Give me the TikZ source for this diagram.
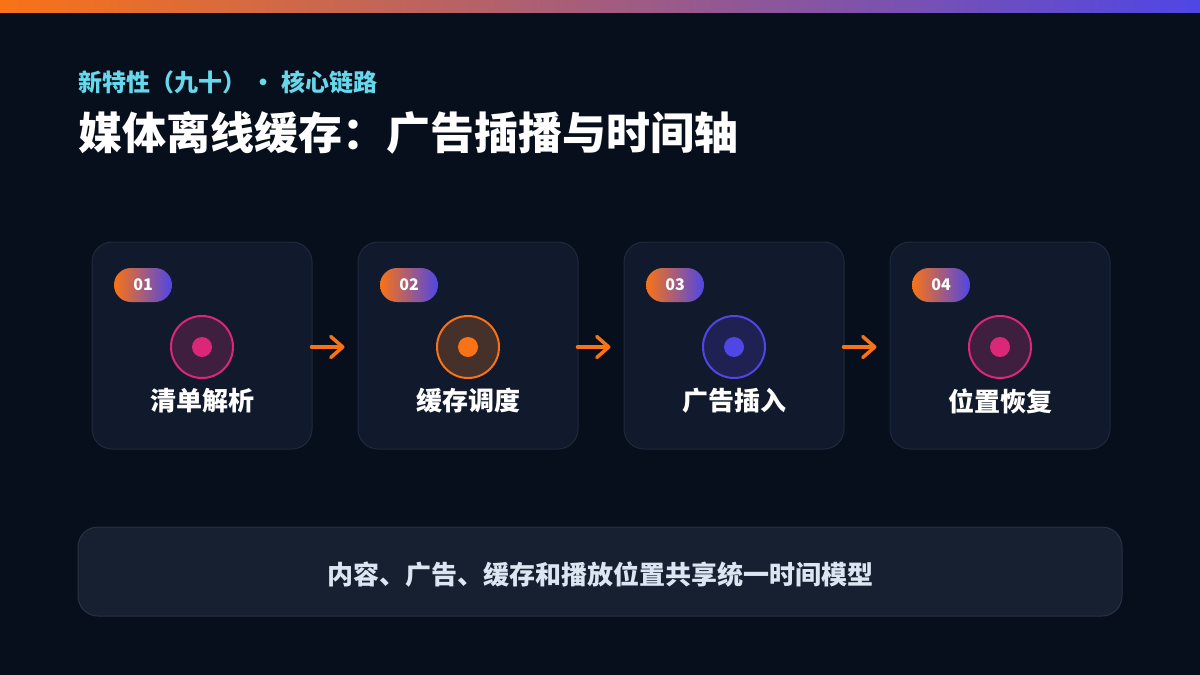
\documentclass[tikz,border=0pt]{standalone}
\usepackage{fontspec}
\setmainfont{Noto Sans CJK SC}
\usetikzlibrary{calc, shapes, arrows.meta, positioning}
\definecolor{bgdark}{HTML}{080F1C}
\definecolor{cardfill}{HTML}{111A2C}
\definecolor{cardline}{HTML}{1F293A}
\definecolor{barorange}{HTML}{F97316}
\definecolor{barindigo}{HTML}{4F46E5}
\definecolor{pinkdot}{HTML}{DB2777}
\definecolor{pinkring}{HTML}{3F1F3F}
\definecolor{orangering}{HTML}{45302A}
\definecolor{indigoring}{HTML}{1E2152}
\definecolor{subcyan}{HTML}{67D8EC}
\definecolor{notefill}{HTML}{172030}
\definecolor{noteline}{HTML}{263142}
\definecolor{notetext}{HTML}{DCE6F2}
\tikzset{
	card/.style={draw=cardline, line width=1pt, fill=cardfill, rounded corners=20pt, minimum width=220pt, minimum height=207pt, inner sep=0pt},
	badge/.style={rounded corners=17pt, minimum width=58pt, minimum height=34pt, left color=barorange, right color=barindigo, text=white, inner sep=0pt, font=\bfseries\fontsize{16}{18}\selectfont},
	ring/.style={circle, line width=2pt, minimum size=62pt, inner sep=0pt},
	dot/.style={circle, minimum size=20pt, inner sep=0pt},
	steplabel/.style={text=white, inner sep=0pt, font=\bfseries\fontsize{26}{30}\selectfont},
	flow/.style={draw=barorange, line width=3.5pt, line cap=round, -{Straight Barb[length=12pt,width=21pt,round]}},
}

\begin{document}
\begin{tikzpicture}[x=1pt, y=-1pt]
			%Background and top bar
			\useasboundingbox (0,0) rectangle (1200,675);
			\fill[bgdark] (0,0) rectangle (1200,675);
			\fill[left color=barorange, right color=barindigo] (0,0) rectangle (1200,12);
			%Headings
			\node [anchor=west, inner sep=0pt, text=subcyan, font=\bfseries\fontsize{24}{28}\selectfont] (kicker) at (78,82) {新特性（九十） · 核心链路};
			\node [anchor=west, inner sep=0pt, text=white, font=\bfseries\fontsize{44}{50}\selectfont] (title) at (78,133) {媒体离线缓存：广告插播与时间轴};
			%Card centers
			\foreach \i in {1,...,4} {
				\coordinate (c\i) at ({202+266*(\i-1)},345.5);
			}
			%card1
			\node [card] (card1) at (c1) {};
			\node [badge] (badge1) at ($(c1)+(-59,-60.5)$) {01};
			\node [ring, draw=pinkdot, fill=pinkring] (ring1) at ($(c1)+(0,1.5)$) {};
			\node [dot, fill=pinkdot] (dot1) at (ring1) {};
			\node [steplabel] (label1) at ($(c1)+(0,55.5)$) {清单解析};
			%card2
			\node [card] (card2) at (c2) {};
			\node [badge] (badge2) at ($(c2)+(-59,-60.5)$) {02};
			\node [ring, draw=barorange, fill=orangering] (ring2) at ($(c2)+(0,1.5)$) {};
			\node [dot, fill=barorange] (dot2) at (ring2) {};
			\node [steplabel] (label2) at ($(c2)+(0,55.5)$) {缓存调度};
			%card3
			\node [card] (card3) at (c3) {};
			\node [badge] (badge3) at ($(c3)+(-59,-60.5)$) {03};
			\node [ring, draw=barindigo, fill=indigoring] (ring3) at ($(c3)+(0,1.5)$) {};
			\node [dot, fill=barindigo] (dot3) at (ring3) {};
			\node [steplabel] (label3) at ($(c3)+(0,55.5)$) {广告插入};
			%card4
			\node [card] (card4) at (c4) {};
			\node [badge] (badge4) at ($(c4)+(-59,-60.5)$) {04};
			\node [ring, draw=pinkdot, fill=pinkring] (ring4) at ($(c4)+(0,1.5)$) {};
			\node [dot, fill=pinkdot] (dot4) at (ring4) {};
			\node [steplabel] (label4) at ($(c4)+(0,55.5)$) {位置恢复};
			%Arrows between the cards
			\draw [flow] ($(card1.east |- ring1.center)+(-1,0)$) -- ($(card2.west |- ring1.center)+(-13,0)$);
			\draw [flow] ($(card2.east |- ring2.center)+(-1,0)$) -- ($(card3.west |- ring2.center)+(-13,0)$);
			\draw [flow] ($(card3.east |- ring3.center)+(-1,0)$) -- ($(card4.west |- ring3.center)+(-13,0)$);
			%Note at the bottom
			\node [draw=noteline, line width=1pt, fill=notefill, rounded corners=20pt, minimum width=1044pt, minimum height=89pt, inner sep=0pt] (note) at (600,571.5) {};
			\node [text=notetext, inner sep=0pt, font=\bfseries\fontsize{26}{30}\selectfont] (notetext) at (600,575) {内容、广告、缓存和播放位置共享统一时间模型};
\end{tikzpicture}
\end{document}
